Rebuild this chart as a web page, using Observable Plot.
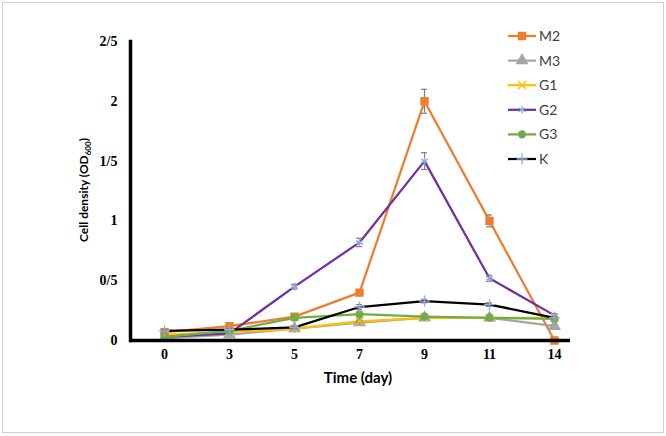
<!DOCTYPE html>
<html><head><meta charset="utf-8">
<script src="https://cdn.jsdelivr.net/npm/d3@7"></script>
<script src="https://cdn.jsdelivr.net/npm/@observablehq/plot@0.6"></script>
<style>
body{margin:0;background:#fff;}
#wrap{position:relative;width:666px;height:436px;overflow:hidden;}
#frame{position:absolute;left:2px;top:2px;width:662px;height:431px;border:1px solid #cfcfcf;box-sizing:border-box;pointer-events:none;}
</style></head><body>
<div id="wrap"><div id="chart"></div><div id="frame"></div></div>
<script>
// ---- data ----
const days = ["0","3","5","7","9","11","14"];
const seriesNames = ["M2","M3","G1","G2","G3","K"];
const M2 = [0.07,0.12,0.20,0.40,2.00,1.00,0.00];
const M3 = [0.02,0.05,0.10,0.15,0.19,0.19,0.12];
const G1 = [0.05,0.07,0.10,0.16,0.19,0.19,0.19];
const G2 = [0.03,0.06,0.45,0.82,1.50,0.52,0.21];
const G3 = [0.03,0.08,0.19,0.22,0.20,0.19,0.18];
const K  = [0.08,0.09,0.11,0.28,0.33,0.30,0.19];
const M2err = [0.015,0.015,0.015,0.015,0.10,0.05,0.01];
const M3err = [0.01,0.01,0.01,0.01,0.01,0.01,0.01];
const G1err = [0.01,0.01,0.01,0.01,0.01,0.01,0.01];
const G2err = [0.01,0.01,0.02,0.035,0.07,0.025,0.015];
const G3err = [0.01,0.01,0.01,0.01,0.01,0.01,0.01];
const Kerr  = [0.01,0.01,0.01,0.02,0.015,0.015,0.01];
const yTicks = [0,0.5,1,1.5,2,2.5];
const yTickLabels = ["0","0/5","1","1/5","2","2/5"];
const xTitle = "Time (day)";
const yTitle = "Cell density (OD";
const ySub = "600";

// ---- styles ----
const values = [M2,M3,G1,G2,G3,K];
const errs = [M2err,M3err,G1err,G2err,G3err,Kerr];
const lineColors = ["#ED7D31","#A5A5A5","#FFC000","#7030A0","#70AD47","#000000"];
const symbols = ["square","triangle","times","asterisk","circle","plus"];
const markerFill = ["#ED7D31","#A5A5A5","none","none","#70AD47","none"];
const markerStroke = ["#ED7D31","#A5A5A5","#FFC000","#8FAADC","#70AD47","#8FAADC"];
const markerR = [4,4,3.6,3.6,3.4,3.6];

const rows = seriesNames.map((s,si)=>days.map((d,i)=>({series:s, day:d, v:values[si][i], e:errs[si][i]})));

const marks = [];
rows.forEach((data,si)=>{
  marks.push(Plot.line(data,{x:"day",y:"v",stroke:lineColors[si],strokeWidth:2.25}));
});
rows.forEach((data,si)=>{
  marks.push(Plot.ruleX(data,{x:"day",y1:d=>d.v-d.e,y2:d=>d.v+d.e,stroke:"#7f7f7f",strokeWidth:1.2}));
  marks.push(Plot.ruleY(data,{x1:"day",x2:"day",y:d=>d.v+d.e,insetLeft:-3,insetRight:-3,stroke:"#7f7f7f",strokeWidth:1.2}));
  marks.push(Plot.ruleY(data,{x1:"day",x2:"day",y:d=>d.v-d.e,insetLeft:-3,insetRight:-3,stroke:"#7f7f7f",strokeWidth:1.2}));
  marks.push(Plot.dot(data,{x:"day",y:"v",symbol:symbols[si],r:markerR[si],fill:markerFill[si],stroke:markerStroke[si],strokeWidth:1.3}));
});

const chart = Plot.plot({
  width:666, height:436,
  marginLeft:130, marginRight:96, marginTop:41, marginBottom:96,
  style:{background:"#fff", color:"#000", overflow:"visible"},
  x:{type:"point", domain:days, range:[162,555], padding:0, axis:null},
  y:{domain:[0,2.5], axis:null},
  marks:[
    Plot.axisX({tickSize:0, tickPadding:9, fontSize:14, fontWeight:"bold", fontFamily:"Liberation Serif", label:null}),
    Plot.axisY({ticks:yTicks, tickFormat:d=>yTickLabels[yTicks.indexOf(d)], tickSize:0, tickPadding:13, fontSize:14, fontWeight:"bold", fontFamily:"Liberation Serif", label:null}),
    ...marks,
    Plot.frame({anchor:"left", strokeWidth:3.5, stroke:"#000"}),
    Plot.ruleY([0],{stroke:"#000", strokeWidth:3.5})
  ]
});
document.getElementById("chart").appendChild(chart);

// ---- titles ----
const svg = d3.select(chart);
svg.append("text").attr("x",358).attr("y",383).attr("text-anchor","middle")
  .style("font","bold 15px Lato").attr("fill","#000").text(xTitle);
const yl = svg.append("text").attr("transform","translate(88,190) rotate(-90)").attr("text-anchor","middle")
  .style("font","bold 12px Lato").attr("fill","#000");
yl.append("tspan").text(yTitle);
yl.append("tspan").attr("font-size","8px").attr("dy","3").text(ySub);
yl.append("tspan").attr("dy","-3").text(")");

// ---- legend ----
const symMap = {square:d3.symbolSquare, triangle:d3.symbolTriangle, times:d3.symbolTimes, asterisk:d3.symbolAsterisk, circle:d3.symbolCircle, plus:d3.symbolPlus};
const lg = svg.append("g").attr("text-anchor","start");
seriesNames.forEach((s,si)=>{
  const y = 36 + si*24.6;
  lg.append("line").attr("x1",508).attr("x2",536).attr("y1",y).attr("y2",y).attr("stroke",lineColors[si]).attr("stroke-width",2.25);
  lg.append("path").attr("transform",`translate(522,${y})`)
    .attr("d",d3.symbol(symMap[symbols[si]], Math.PI*markerR[si]*markerR[si])())
    .attr("fill",markerFill[si]).attr("stroke",markerStroke[si]).attr("stroke-width",1.3);
  lg.append("text").attr("x",539).attr("y",y).attr("dy","0.35em").attr("text-anchor","start")
    .style("font","14px Lato").attr("fill","#404040").text(s);
});
</script>
</body></html>
